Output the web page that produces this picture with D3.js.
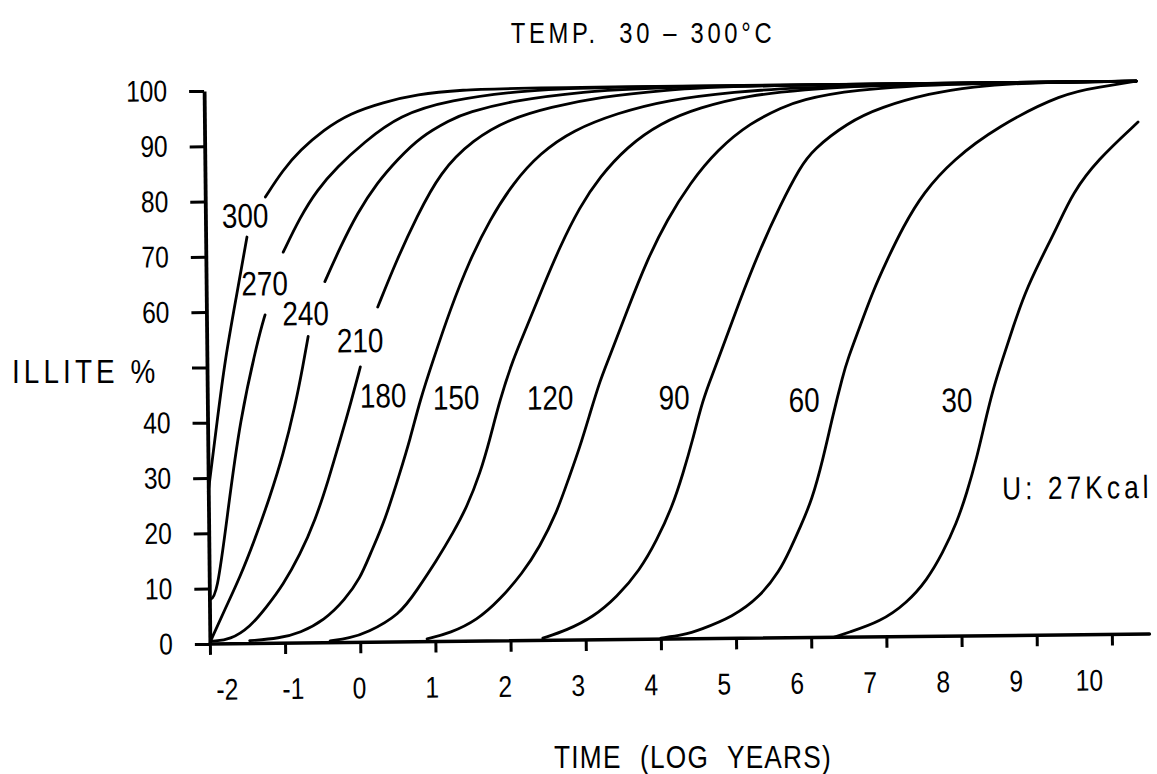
<!DOCTYPE html>
<html><head><meta charset="utf-8">
<script src="https://cdn.jsdelivr.net/npm/d3@7"></script>
<style>
html,body{margin:0;padding:0;background:#fff;}
svg{display:block;background:#fff;}
text{font-family:"Liberation Sans",Arial,sans-serif;fill:#000;}
</style></head><body>
<svg id="chart" width="1157" height="774"></svg>
<script>
// ---- data (log10 years, illite %) ; null = gap where the curve label sits ----
const temperatures = [300, 270, 240, 210, 180, 150, 120, 90, 60, 30];
const c300 = [[-2,27.5],[-1.87,40.5],[-1.76,51.3],[-1.60,62.7],[-1.45,73.5],null,[-1.20,80.7],[-0.96,85.6],[-0.73,89.1],[-0.42,92.7],[-0.06,95.7],[0.38,97.6],[0.83,99.0],[1.41,99.7],[2.2,100],[10.4,100]];
const c270 = [[-2,8.0],[-1.90,8.4],[-1.74,24.2],[-1.57,40.4],[-1.32,54.9],[-1.22,59.4],null,[-0.97,70.7],[-0.74,77.0],[-0.51,81.9],[-0.24,86.0],[0.11,90.3],[0.60,95.3],[1.27,97.9],[2.20,99.4],[3.0,100],[10.4,100]];
const c240 = [[-1.99,0.5],[-1.80,6.1],[-1.59,12.0],[-1.39,18.7],[-1.18,26.5],[-1.00,34.0],[-0.83,43.0],[-0.72,50.3],[-0.65,55.4],null,[-0.42,65.3],[-0.21,71.5],[0.02,77.6],[0.29,83.1],[0.56,87.2],[0.87,91.3],[1.27,94.3],[1.49,95.6],[2.16,97.8],[3.03,99.1],[4.0,100],[10.4,100]];
const c210 = [[-1.96,0.5],[-1.73,0.7],[-1.46,3.0],[-1.24,6.6],[-1.02,10.5],[-0.79,15.9],[-0.58,22.2],[-0.40,29.4],[-0.24,36.6],[-0.10,42.9],[0.04,49.8],null,[0.28,60.6],[0.54,69.1],[0.81,76.8],[1.13,84.9],[1.57,90.7],[2.07,94.4],[2.60,96.4],[3.27,98.2],[4.16,99.3],[5.0,100],[10.4,100]];
const c180 = [[-1.47,0.5],[-1.07,0.9],[-0.80,1.8],[-0.47,4.1],[-0.20,7.7],[0.01,11.6],[0.14,15.8],[0.35,22.1],[0.55,30.5],[0.69,36.5],[0.83,43.7],[1.01,50.9],[1.24,59.9],[1.51,68.9],[1.78,76.1],[2.10,82.8],[2.46,88.1],[2.90,92.2],[3.49,95.2],[4.16,97.5],[5.04,98.8],[6.0,99.7],[10.4,100]];
const c150 = [[-0.40,0.3],[-0.14,0.8],[0.09,1.7],[0.53,4.9],[0.76,9.3],[1.03,14.7],[1.25,19.6],[1.44,24.3],[1.62,30.4],[1.75,36.3],[1.89,43.5],[2.07,50.8],[2.26,56.7],[2.48,63.9],[2.71,71.1],[2.98,78.3],[3.25,83.7],[3.62,89.1],[4.06,93.3],[4.59,96.1],[5.26,98.2],[5.93,99.0],[7.0,100],[10.4,100]];
const c120 = [[0.89,0.5],[1.20,1.5],[1.56,3.8],[1.86,7.4],[2.17,12.2],[2.40,16.9],[2.63,23.0],[2.79,29.0],[2.95,34.9],[3.09,41.0],[3.23,47.0],[3.34,50.6],[3.60,59.6],[3.87,68.6],[4.14,75.8],[4.45,82.4],[4.82,88.4],[5.26,93.2],[5.70,96.0],[5.93,97.2],[6.59,99.0],[8.0,100],[10.4,100]];
const c90 = [[2.43,0.4],[2.75,1.8],[3.10,4.1],[3.42,7.7],[3.73,12.5],[3.96,17.9],[4.17,23.9],[4.32,30.0],[4.45,35.9],[4.59,43.2],[4.73,48.0],[4.80,50.4],[5.10,61.2],[5.37,70.2],[5.65,78.3],[5.92,85.1],[6.09,88.2],[6.55,93.0],[7.00,95.8],[7.66,98.2],[8.20,99.3],[9.0,100],[10.4,100]];
const c60 = [[4.0,0.2],[4.30,0.7],[4.52,1.6],[4.96,3.9],[5.32,7.4],[5.59,12.1],[5.73,15.9],[5.87,20.0],[6.03,24.9],[6.18,32.1],[6.32,40.2],[6.46,47.4],[6.52,50.1],[6.69,56.1],[6.86,62.2],[7.06,68.1],[7.28,74.1],[7.55,80.2],[7.95,86.1],[8.54,92.0],[9.43,98.0],[9.92,99.0],[10.4,100]];
const c30 = [[6.3,0],[6.48,0.8],[6.92,2.7],[7.28,6.1],[7.55,10.2],[7.76,15.0],[7.95,20.4],[8.09,25.8],[8.23,32.3],[8.34,38.5],[8.45,44.4],[8.58,49.8],[8.73,55.8],[8.89,61.9],[9.10,67.8],[9.33,73.8],[9.54,79.9],[9.87,85.8],[10.42,92.6]];
const seriesValues = [c300, c270, c240, c210, c180, c150, c120, c90, c60, c30];
// label anchor in data units for each curve
const labelLogT = [-1.47, -1.22, -0.68, 0.04, 0.34, 1.31, 2.56, 4.21, 5.94, 7.97];
const labelPct  = [77.4, 65.1, 59.6, 54.6, 44.6, 44.1, 43.9, 43.7, 43.0, 42.7];
const xTicks = [-2,-1,0,1,2,3,4,5,6,7,8,9,10];
const xTickLabels = ["-2","-1","0","1","2","3","4","5","6","7","8","9","10"];
const yTicks = [0,10,20,30,40,50,60,70,80,90,100];
// the 50 position carries the axis title instead of a number
const yTickLabels = ["0","10","20","30","40","","60","70","80","90","100"];
const xMax = 10.5;
const titleText = "TEMP.  30 – 300°C";
const xTitle = "TIME (LOG YEARS)";
const yTitle = "ILLITE %";
const noteText = "U: 27Kcal";
const noteAt = [8.56, 26.6];

// ---- drawing ----
const SX = 0.82; // narrow lettering
function narrow(sel) {
  sel.each(function () {
    const t = d3.select(this);
    const x0 = +t.attr("x") || 0, y0 = +t.attr("y") || 0;
    t.attr("x", 0).attr("y", 0).attr("transform", `translate(${x0},${y0}) scale(${SX},1)`);
  });
}
const svg = d3.select("#chart");
const x = d3.scaleLinear().domain([-2, 10]).range([207, 1109]);
const y = d3.scaleLinear().domain([0, 100]).range([639, 86]);
// hand-lettered tick labels drift slightly left of their ticks
const xLab = d3.scaleLinear().domain([-2, 0, 10]).range([224, 356, 1086]);

const g = svg.append("g").attr("transform", "rotate(-0.6,676,366)");

// x axis
g.append("line")
  .attr("x1", x(-2)).attr("x2", x(xMax))
  .attr("y1", y(0)).attr("y2", y(0))
  .attr("stroke", "#000").attr("stroke-width", 3.5).attr("stroke-linecap", "round");
const xa = g.append("g").attr("transform", `translate(0,${y(0)})`)
  .call(d3.axisBottom(x).tickValues(xTicks).tickSize(11).tickSizeOuter(0));
xa.select(".domain").remove();
xa.selectAll(".tick text").remove();
xa.selectAll(".tick line").attr("stroke", "#000").attr("stroke-width", 3);
g.selectAll("text.xl").data(xTicks).join("text")
  .attr("class", "xl")
  .attr("x", d => xLab(d)).attr("y", y(0) + 56)
  .attr("text-anchor", "middle").attr("font-size", 30)
  .text((d, i) => xTickLabels[i])
  .call(narrow);

// y axis
const ya = g.append("g").attr("transform", `translate(${x(-2)},0)`)
  .call(d3.axisLeft(y).tickValues(yTicks).tickSize(15).tickPadding(22).tickSizeOuter(0)
    .tickFormat((d, i) => yTickLabels[i]));
ya.select(".domain").attr("stroke", "#000").attr("stroke-width", 3.8);
ya.selectAll(".tick line").attr("stroke", "#000").attr("stroke-width", 3);
ya.selectAll(".tick text").attr("font-size", 30).attr("fill", "#000")
  .attr("font-family", '"Liberation Sans", Arial, sans-serif').call(narrow);

// curves
const line = d3.line()
  .defined(d => d !== null)
  .x(d => x(d[0])).y(d => y(d[1]))
  .curve(d3.curveBasis);
g.selectAll("path.curve").data(seriesValues).join("path")
  .attr("class", "curve")
  .attr("d", d => line(d))
  .attr("fill", "none").attr("stroke", "#000").attr("stroke-width", 2.8)
  .attr("stroke-linejoin", "round").attr("stroke-linecap", "round");

// curve labels
g.selectAll("text.clab").data(temperatures).join("text")
  .attr("class", "clab")
  .attr("x", (d, i) => x(labelLogT[i])).attr("y", (d, i) => y(labelPct[i]) + 12)
  .attr("text-anchor", "middle")
  .attr("font-size", 34)
  .text(d => d)
  .call(narrow);

g.append("text").attr("x", x(noteAt[0])).attr("y", y(noteAt[1]) + 11)
  .attr("font-size", 32).attr("letter-spacing", 5).text(noteText).call(narrow);

// titles
svg.append("text").attr("x", 643).attr("y", 43).attr("text-anchor", "middle")
  .attr("font-size", 29).attr("letter-spacing", 4.5).style("white-space", "pre").text(titleText).call(narrow);
svg.append("text").attr("x", 693).attr("y", 768).attr("text-anchor", "middle")
  .attr("font-size", 32).attr("letter-spacing", 1.5).attr("word-spacing", 12).text(xTitle).call(narrow);
svg.append("text").attr("x", 12).attr("y", 383)
  .attr("font-size", 34).attr("letter-spacing", 5).text(yTitle).call(narrow);
</script>
</body></html>
